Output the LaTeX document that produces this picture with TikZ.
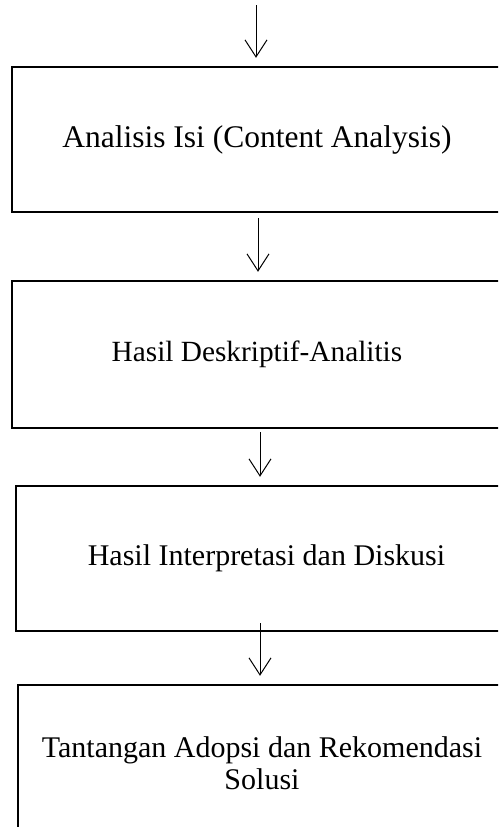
\documentclass[tikz,border=0pt]{standalone}
\usepackage{fontspec}
\setmainfont{Liberation Serif}
\usetikzlibrary{arrows.meta}

\begin{document}
\begin{tikzpicture}[x=1pt, y=-1pt,
		box/.style={draw, line width=2.4pt, inner sep=0pt, align=center, font=\fontsize{30}{32}\selectfont},
		flow/.style={-{Straight Barb[length=17pt, width=22pt]}, line width=1pt}]
					\clip (0,0) rectangle (498,827);
					\node[box, minimum width=490pt, minimum height=145pt, font=\fontsize{31.5}{36}\selectfont] (isi) at (257,139.5) {Analisis Isi (Content Analysis)};
					\node[box, minimum width=490pt, minimum height=147pt, font=\fontsize{29.3}{32}\selectfont] (deskriptif) at (257,354.5) {Hasil Deskriptif-Analitis};
					\node[box, minimum width=501pt, minimum height=145pt] (diskusi) at (266.5,558.5) {Hasil Interpretasi dan Diskusi};
					\node[box, minimum width=488pt, minimum height=155.5pt] (solusi) at (262,762.75) {Tantangan Adopsi dan Rekomendasi\\Solusi};
					\coordinate (masuk) at (256,5);
					\draw[flow, shorten >=8pt] (masuk) -- ([xshift=-1pt]isi.north);
					\draw[flow, shorten <=5pt, shorten >=8pt] ([xshift=1pt]isi.south) -- ([xshift=1pt]deskriptif.north);
					\draw[flow, shorten <=3pt, shorten >=8pt] ([xshift=3pt]deskriptif.south) -- ([xshift=-6.5pt]diskusi.north);
					\draw[flow, shorten <=-9pt, shorten >=8pt] ([xshift=-6.5pt]diskusi.south) -- ([xshift=-2pt]solusi.north);
				\end{tikzpicture}
\end{document}
